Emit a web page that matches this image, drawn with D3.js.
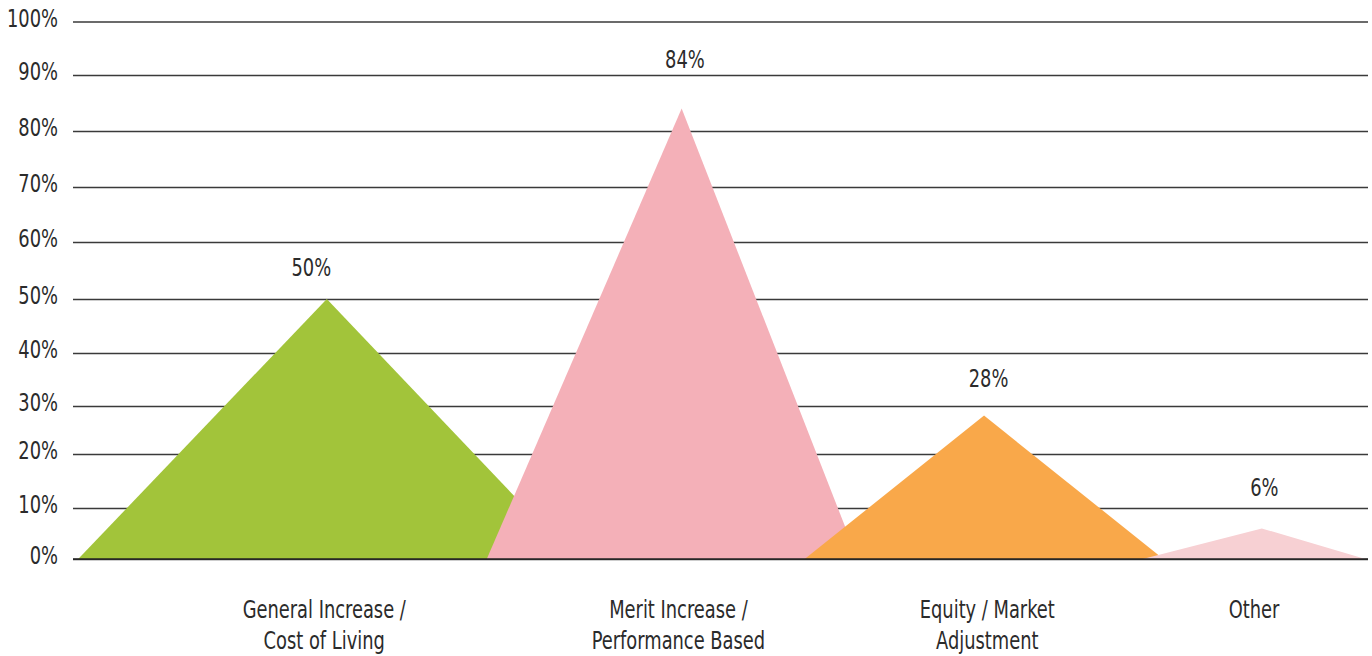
<!DOCTYPE html>
<html>
<head>
<meta charset="utf-8">
<script src="https://cdn.jsdelivr.net/npm/d3@7"></script>
<style>
  html, body { margin: 0; padding: 0; background: #fff; }
  svg { display: block; }
  text { font-family: "DejaVu Sans Condensed", "Liberation Sans Narrow", "Roboto", sans-serif; fill: #2b2b2b; }
</style>
</head>
<body>
<svg id="chart" width="1372" height="656"></svg>
<script>
// ---- data ----
const categories = [
  ["General Increase /", "Cost of Living"],
  ["Merit Increase /", "Performance Based"],
  ["Equity / Market", "Adjustment"],
  ["Other"]
];
const values = [50, 84, 28, 6];
const yTicks = [0, 10, 20, 30, 40, 50, 60, 70, 80, 90, 100];
const colors = ["#a2c43a", "#f4b0b8", "#f9a84a", "#f7d0d3"];

// ---- layout (positions along the plot width, in % of plot width) ----
const apexPos   = [19.6, 47.0, 70.35, 91.8];
const baseLeft  = [0.4, 31.95, 56.5, 82.6];
const baseRight = [38.7, 60.6, 84.2, 99.8];
const valueLabelPos = [18.4, 47.25, 70.7, 92.0];
const valueLabelGap = [23, 41, 29, 32];
const catLabelPos   = [19.4, 46.75, 70.6, 91.2];

const FS = 24.5, SX = 0.81;   // tall, condensed lettering

const svg = d3.select("#chart");
const left = 73, right = 1368;

const x = d3.scaleLinear().domain([0, 100]).range([left, right]);
// the reference's gridlines are spaced slightly unevenly; follow them
const y = d3.scaleLinear()
  .domain(yTicks)
  .range([559, 508, 454, 406, 353, 299, 242, 187, 131, 75, 21.5]);

// gridlines + tick labels
const axis = d3.axisLeft(y)
  .tickValues(yTicks)
  .tickSize(-(right - left))
  .tickPadding(15)
  .tickFormat(d => d + "%");

const g = svg.append("g")
  .attr("transform", `translate(${left},0)`)
  .call(axis);
g.select(".domain").remove();
g.selectAll(".tick line").attr("stroke", "#3a3a3a").attr("stroke-width", 1.3);
g.selectAll(".tick text")
  .attr("font-size", FS)
  .attr("x", -15 / SX)
  .attr("y", -4)
  .attr("dy", "0.36em")
  .attr("transform", `scale(${SX},1)`)
  .attr("fill", "#2b2b2b");

// triangles
svg.append("g").selectAll("path")
  .data(values)
  .join("path")
  .attr("d", (v, i) => {
    const p = d3.path();
    p.moveTo(x(baseLeft[i]), y(0));
    p.lineTo(x(apexPos[i]), y(v));
    p.lineTo(x(baseRight[i]), y(0));
    p.closePath();
    return p.toString();
  })
  .attr("fill", (v, i) => colors[i]);

// baseline on top
svg.append("line")
  .attr("x1", left).attr("x2", right)
  .attr("y1", y(0)).attr("y2", y(0))
  .attr("stroke", "#222").attr("stroke-width", 1.5);

// value labels
svg.append("g").selectAll("text")
  .data(values)
  .join("text")
  .attr("transform", (v, i) => `translate(${x(valueLabelPos[i])},${y(v) - valueLabelGap[i]}) scale(${SX},1)`)
  .attr("text-anchor", "middle")
  .attr("font-size", FS)
  .text(v => v + "%");

// category labels
const cl = svg.append("g").selectAll("text")
  .data(categories)
  .join("text")
  .attr("transform", (c, i) => `translate(${x(catLabelPos[i])},618) scale(${SX},1)`)
  .attr("text-anchor", "middle")
  .attr("font-size", FS);
cl.selectAll("tspan")
  .data(c => c)
  .join("tspan")
  .attr("x", 0)
  .attr("dy", (d, j) => j === 0 ? 0 : 31)
  .text(d => d);
</script>
</body>
</html>
